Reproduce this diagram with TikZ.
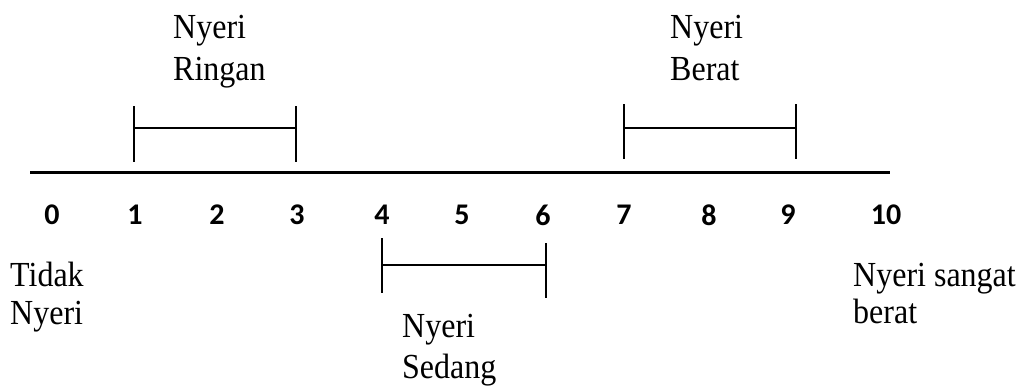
\documentclass[tikz,border=0pt]{standalone}
\usepackage{graphicx}
\usepackage{fontspec}
\setmainfont{Liberation Serif}
\newfontfamily\numfont{Carlito}
% labels are set slightly taller than wide
\newcommand{\tallword}[1]{\scalebox{1}[1.1]{#1}}
\begin{document}
\begin{tikzpicture}[x=1pt,y=-1pt,
  lbl/.style={anchor=base west, inner sep=0pt, font=\fontsize{32}{32}\selectfont},
  num/.style={inner sep=0pt, font=\numfont\bfseries\fontsize{30}{30}\selectfont},
  axis/.style={line width=3pt},
  bar/.style={line width=2.4pt}]
\useasboundingbox (0,0) rectangle (1022,386);

% scale axis
\coordinate (aL) at (30,172);
\coordinate (aR) at (890,172);
\draw[axis] (aL) -- (aR);

% numbers 0..10
\node[num] (n0)  at (52,215)  {0};
\node[num] (n1)  at (135,215) {1};
\node[num] (n2)  at (217,215) {2};
\node[num] (n3)  at (297,215) {3};
\node[num] (n4)  at (382,215) {4};
\node[num] (n5)  at (462,215) {5};
\node[num] (n6)  at (543,215) {6};
\node[num] (n7)  at (624,215) {7};
\node[num] (n8)  at (709,215) {8};
\node[num] (n9)  at (788,215) {9};
\node[num] (n10) at (886,215) {10};

% range: mild (1-3)
\coordinate (r1t) at (134,106); \coordinate (r1b) at (134,162);
\coordinate (r3t) at (296,106); \coordinate (r3b) at (296,162);
\coordinate (r1m) at (134,128); \coordinate (r3m) at (296,128);
\draw[bar] (r1t) -- (r1b);
\draw[bar] (r3t) -- (r3b);
\draw[bar] (r1m) -- (r3m);

% range: severe (7-9)
\coordinate (b7t) at (624,104); \coordinate (b7b) at (624,159);
\coordinate (b9t) at (796,104); \coordinate (b9b) at (796,159);
\coordinate (b7m) at (624,128); \coordinate (b9m) at (796,128);
\draw[bar] (b7t) -- (b7b);
\draw[bar] (b9t) -- (b9b);
\draw[bar] (b7m) -- (b9m);

% range: moderate (4-6)
\coordinate (s4t) at (382,238); \coordinate (s4b) at (382,293);
\coordinate (s6t) at (546,243); \coordinate (s6b) at (546,298);
\coordinate (s4m) at (382,265); \coordinate (s6m) at (546,265);
\draw[bar] (s4t) -- (s4b);
\draw[bar] (s6t) -- (s6b);
\draw[bar] (s4m) -- (s6m);

% labels
\node[lbl] (ringan1) at (173,38)  {\tallword{Nyeri}};
\node[lbl] (ringan2) at (173,80)  {\tallword{Ringan}};
\node[lbl] (berat1)  at (670,38)  {\tallword{Nyeri}};
\node[lbl] (berat2)  at (670,80)  {\tallword{Berat}};
\node[lbl] (sedang1) at (402,337) {\tallword{Nyeri}};
\node[lbl] (sedang2) at (402,378) {\tallword{Sedang}};
\node[lbl] (tidak1)  at (10,286)  {\tallword{Tidak}};
\node[lbl] (tidak2)  at (10,324)  {\tallword{Nyeri}};
\node[lbl] (sangat1) at (853,286) {\tallword{Nyeri sangat}};
\node[lbl] (sangat2) at (853,323) {\tallword{berat}};
\end{tikzpicture}
\end{document}
